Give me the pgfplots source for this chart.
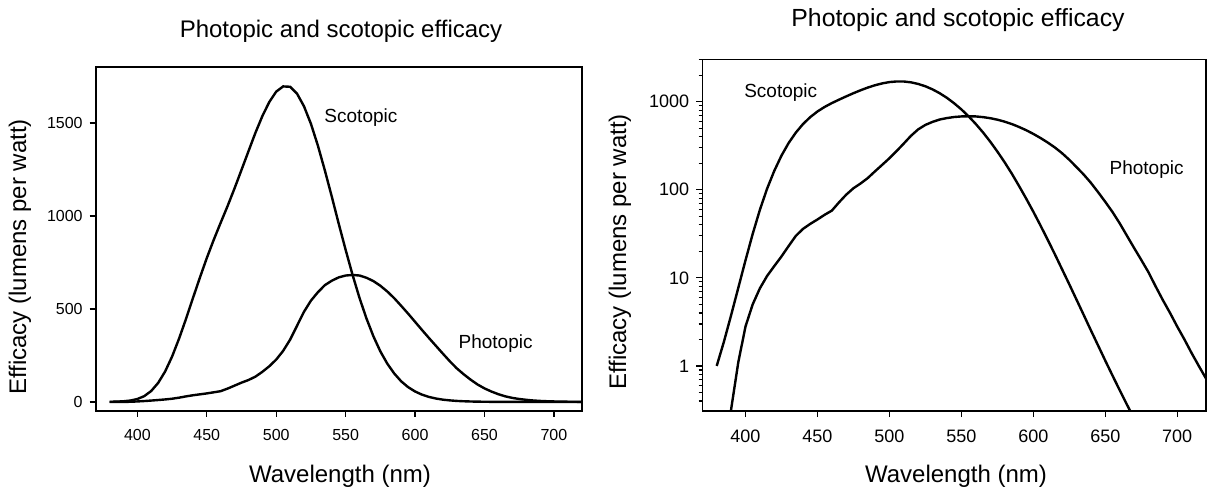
\documentclass[border=0pt]{standalone}
\usepackage{fontspec}
\setmainfont{Liberation Sans}
\usepackage{pgfplots}
\usepackage{pgfplotstable}
\pgfplotsset{compat=1.18}

% wavelength (nm), scotopic and photopic efficacy (lm/W)
\pgfplotstableread{
nm  scot   phot
380 1.00   0.06
385 1.88   0.13
390 3.76   0.32
395 7.70   1.1
400 15.8   2.8
405 31.5   5.0
410 59.2   7.6
415 102.7  10.5
420 164    13.6
425 244    17.5
430 340    23
435 446    30
440 558    36
445 668    41
450 774    46
455 872    52
460 964    58
465 1054   72
470 1149   88
475 1248   104
480 1348   118
485 1447   136
490 1537   162
495 1613   192
500 1669   228
505 1697   275
510 1695   335
515 1658   410
520 1590   485
525 1496   545
530 1379   590
535 1246   628
540 1105   652
545 959    670
550 818    680
555 683    683
560 559    680
565 449    668
570 353    650
575 272    625
580 206    594
585 153    558
590 111    517
595 79.7   475
600 56.4   431
605 39.3   387
610 27.1   344
615 18.5   302
620 12.5   260
625 8.45   219
630 5.67   181
635 3.80   149
640 2.54   120
645 1.71   94
650 1.15   73
655 0.78   56
660 0.532  41.7
665 0.366  30.2
670 0.252  21.9
675 0.175  16.0
680 0.12   11.6
685 0.085  8.0
690 0.06   5.6
695 0.042  4.0
700 0.03   2.8
705 0.021  2.0
710 0.015  1.4
715 0.011  1.0
720 0.008  0.72
}\eff

\pgfplotsset{
  effax/.style={
    scale only axis,
    xmin=370, xmax=720,
    xtick={400,450,...,700},
    tick align=outside,
    tick pos=left,
    major tick length=3pt,
    minor tick length=1.8pt,
    every tick/.style={black, line width=0.6pt},
    axis line style={line width=0.8pt},
    xticklabel style={yshift=-3pt},
    /pgf/number format/assume math mode=true,
    /pgf/number format/1000 sep={},
  },
  curve/.style={black, line width=1.2pt, no markers},
}

\begin{document}
\begin{tikzpicture}
\useasboundingbox (0pt,0pt) rectangle (604pt,-246.5pt);

% left: linear scale
\begin{axis}[effax,
  at={(47.85pt,-205.35pt)}, anchor=south west,
  width=243pt, height=172pt,
  ymin=-47, ymax=1803,
  ytick={0,500,1000,1500},
  ticklabel style={font=\fontsize{8}{9}\selectfont},
]
\addplot[curve] table[x=nm, y=scot] {\eff};
\addplot[curve] table[x=nm, y=phot] {\eff};
\node[font=\fontsize{9.5}{11}\selectfont] at (axis cs:561,1527) {Scotopic};
\node[font=\fontsize{9.5}{11}\selectfont] at (axis cs:658,312) {Photopic};
\end{axis}

% right: log scale
\begin{axis}[effax,
  at={(351.15pt,-205.5pt)}, anchor=south west,
  width=251.85pt, height=175.85pt,
  ymode=log,
  ymin=0.308, ymax=3027,
  ytick={1,10,100,1000},
  yticklabels={1,10,100,1000},
  minor ytick={0.4,0.5,0.6,0.7,0.8,0.9,2,3,4,5,6,7,8,9,20,30,40,50,60,70,80,90,200,300,400,500,600,700,800,900,2000,3000},
  ticklabel style={font=\fontsize{9}{10}\selectfont},
]
\addplot[curve] table[x=nm, y=scot] {\eff};
\addplot[curve] table[x=nm, y=phot] {\eff};
\node[font=\fontsize{9.5}{11}\selectfont] at (axis cs:424.5,1277) {Scotopic};
\node[font=\fontsize{9.5}{11}\selectfont] at (axis cs:678.7,171) {Photopic};
\end{axis}

% titles and axis labels
\node[anchor=base, font=\fontsize{12}{14}\selectfont] at (170.5pt,-18.5pt) {Photopic and scotopic efficacy};
\node[anchor=base, font=\fontsize{12.4}{14}\selectfont] at (479pt,-13pt) {Photopic and scotopic efficacy};
\node[anchor=base, font=\fontsize{12}{14}\selectfont] at (170pt,-241pt) {Wavelength (nm)};
\node[anchor=base, font=\fontsize{12}{14}\selectfont] at (478pt,-241pt) {Wavelength (nm)};
\node[rotate=90, font=\fontsize{12}{14}\selectfont] at (10pt,-128.5pt) {Efficacy (lumens per watt)};
\node[rotate=90, font=\fontsize{12}{14}\selectfont] at (310pt,-126pt) {Efficacy (lumens per watt)};
\end{tikzpicture}
\end{document}
